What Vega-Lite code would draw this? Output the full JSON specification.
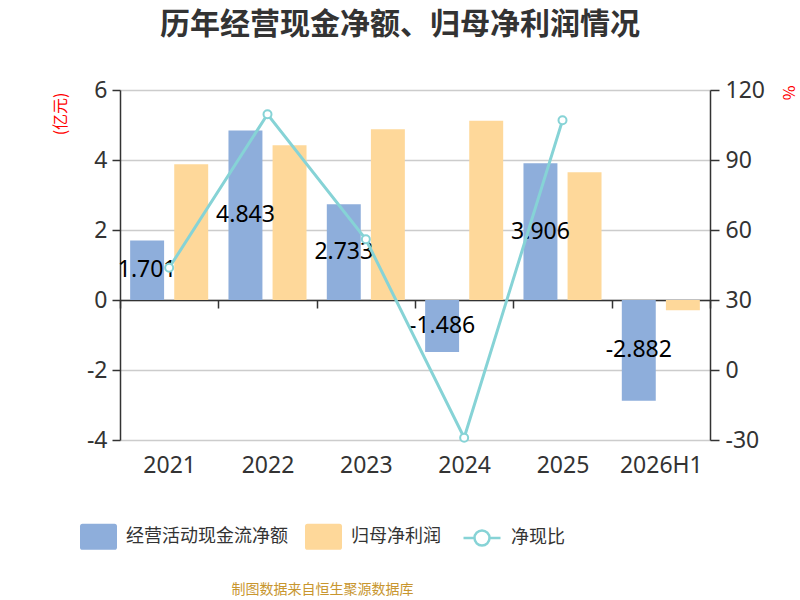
{
  "$schema": "https://vega.github.io/schema/vega-lite/v6.json",
  "description": "历年经营现金净额、归母净利润情况",
  "width": 590,
  "height": 350,
  "autosize": "none",
  "padding": {"left": 120, "top": 90, "right": 90, "bottom": 160},
  "title": {
    "text": "历年经营现金净额、归母净利润情况",
    "anchor": "middle",
    "frame": "group",
    "dx": -15,
    "offset": 39,
    "font": "Noto Sans CJK SC",
    "fontSize": 30,
    "fontWeight": "bold",
    "color": "#333333"
  },
  "datasets": {
    "bars": [
      {"year": "2021", "series": "经营活动现金流净额", "value": 1.701},
      {"year": "2021", "series": "归母净利润", "value": 3.88},
      {"year": "2022", "series": "经营活动现金流净额", "value": 4.843},
      {"year": "2022", "series": "归母净利润", "value": 4.42},
      {"year": "2023", "series": "经营活动现金流净额", "value": 2.733},
      {"year": "2023", "series": "归母净利润", "value": 4.88},
      {"year": "2024", "series": "经营活动现金流净额", "value": -1.486},
      {"year": "2024", "series": "归母净利润", "value": 5.12},
      {"year": "2025", "series": "经营活动现金流净额", "value": 3.906},
      {"year": "2025", "series": "归母净利润", "value": 3.65},
      {"year": "2026H1", "series": "经营活动现金流净额", "value": -2.882},
      {"year": "2026H1", "series": "归母净利润", "value": -0.29}
    ],
    "ratio": [
      {"year": "2021", "ratio": 43.8},
      {"year": "2022", "ratio": 109.6},
      {"year": "2023", "ratio": 56.0},
      {"year": "2024", "ratio": -29.0},
      {"year": "2025", "ratio": 107.0}
    ]
  },
  "layer": [
    {
      "data": {"name": "bars"},
      "mark": {"type": "bar"},
      "encoding": {
        "x": {
          "field": "year",
          "type": "nominal",
          "scale": {"paddingInner": 0, "paddingOuter": 0},
          "title": "制图数据来自恒生聚源数据库",
          "axis": {
            "orient": "bottom",
            "offset": -140,
            "tickBand": "extent",
            "tickSize": 8,
            "tickWidth": 1.5,
            "tickColor": "#333333",
            "domainColor": "#333333",
            "domainWidth": 1.5,
            "labelAngle": 0,
            "labelPadding": 146,
            "grid": false,
            "titleFont": "Noto Sans CJK SC",
            "titleFontSize": 14,
            "titleFontWeight": "normal",
            "titleColor": "#c8962e",
            "titleX": 202,
            "titleY": 289,
            "titleAlign": "center",
            "titleBaseline": "middle"
          }
        },
        "xOffset": {
          "field": "series",
          "type": "nominal",
          "scale": {"domain": ["经营活动现金流净额", "归母净利润"], "padding": 0.23}
        },
        "y": {
          "field": "value",
          "type": "quantitative",
          "scale": {"domain": [-4, 6], "nice": false},
          "title": "(亿元)",
          "axis": {
            "orient": "left",
            "values": [-4, -2, 0, 2, 4, 6],
            "grid": true,
            "gridColor": "#cccccc",
            "gridWidth": 1.5,
            "tickSize": 8,
            "tickWidth": 1.5,
            "tickColor": "#333333",
            "domainColor": "#333333",
            "domainWidth": 1.5,
            "labelPadding": 5,
            "titleFont": "Noto Sans CJK SC",
            "titleFontSize": 16,
            "titleFontWeight": "normal",
            "titleColor": "#ff0000",
            "titleAngle": -90,
            "titleX": -60,
            "titleY": 2,
            "titleAlign": "right",
            "titleBaseline": "middle"
          }
        },
        "color": {
          "field": "series",
          "type": "nominal",
          "scale": {"domain": ["经营活动现金流净额", "归母净利润"], "range": ["#8eaedb", "#fed89a"]},
          "legend": {
            "orient": "none",
            "legendX": -40,
            "legendY": 428,
            "direction": "horizontal",
            "title": null,
            "symbolType": "M-0.86,-0.7L0.86,-0.7Q1,-0.7,1,-0.56L1,0.56Q1,0.7,0.86,0.7L-0.86,0.7Q-1,0.7,-1,0.56L-1,-0.56Q-1,-0.7,-0.86,-0.7Z",
            "symbolSize": 1369,
            "symbolStrokeWidth": 0,
            "symbolOpacity": 1,
            "labelFont": "Noto Sans CJK SC",
            "labelFontSize": 18,
            "labelColor": "#333333",
            "labelOffset": 9,
            "labelLimit": 400,
            "columnPadding": 17
          }
        }
      }
    },
    {
      "data": {"name": "bars"},
      "transform": [{"filter": "datum.series === '经营活动现金流净额'"}],
      "mark": {"type": "text", "font": "Noto Sans", "fontSize": 23, "color": "#000000", "baseline": "middle"},
      "encoding": {
        "x": {"field": "year", "type": "nominal"},
        "xOffset": {"field": "series", "type": "nominal", "scale": {"domain": ["经营活动现金流净额", "归母净利润"]}},
        "y": {"field": "value", "type": "quantitative", "scale": {"domain": [-8, 12], "nice": false}, "axis": null},
        "text": {"field": "value", "type": "quantitative", "format": ".3f"}
      }
    },
    {
      "data": {"name": "ratio"},
      "mark": {
        "type": "line",
        "strokeWidth": 3,
        "point": {"filled": false, "fill": "white", "size": 64, "strokeWidth": 2}
      },
      "encoding": {
        "x": {"field": "year", "type": "nominal"},
        "y": {
          "field": "ratio",
          "type": "quantitative",
          "scale": {"domain": [-30, 120], "nice": false},
          "title": "%",
          "axis": {
            "orient": "right",
            "values": [-30, 0, 30, 60, 90, 120],
            "grid": false,
            "tickSize": 9,
            "tickWidth": 1.5,
            "tickColor": "#333333",
            "domainColor": "#333333",
            "domainWidth": 1.5,
            "labelPadding": 6,
            "titleFont": "Noto Sans CJK SC",
            "titleFontSize": 16,
            "titleFontWeight": "normal",
            "titleColor": "#ff0000",
            "titleAngle": 90,
            "titleX": 77,
            "titleY": -5,
            "titleAlign": "left",
            "titleBaseline": "middle"
          }
        },
        "stroke": {
          "datum": "净现比",
          "scale": {"range": ["#86d3d6"]},
          "legend": {
            "orient": "none",
            "legendX": 342,
            "legendY": 428,
            "title": null,
            "symbolType": "M-1,0L-0.405,0M0.405,0L1,0M0.405,0A0.405,0.405,0,1,1,-0.405,0A0.405,0.405,0,1,1,0.405,0",
            "symbolSize": 1369,
            "symbolStrokeWidth": 2.5,
            "symbolFillColor": "#ffffff",
            "labelFont": "Noto Sans CJK SC",
            "labelFontSize": 18,
            "labelColor": "#333333",
            "labelOffset": 9
          }
        }
      }
    }
  ],
  "resolve": {"scale": {"y": "independent"}},
  "config": {
    "view": {"stroke": null},
    "locale": {"number": {"decimal": ".", "thousands": ",", "grouping": [3], "currency": ["", ""], "minus": "-"}},
    "axis": {
      "labelFont": "Noto Sans",
      "labelFontSize": 23,
      "labelColor": "#333333"
    }
  }
}
